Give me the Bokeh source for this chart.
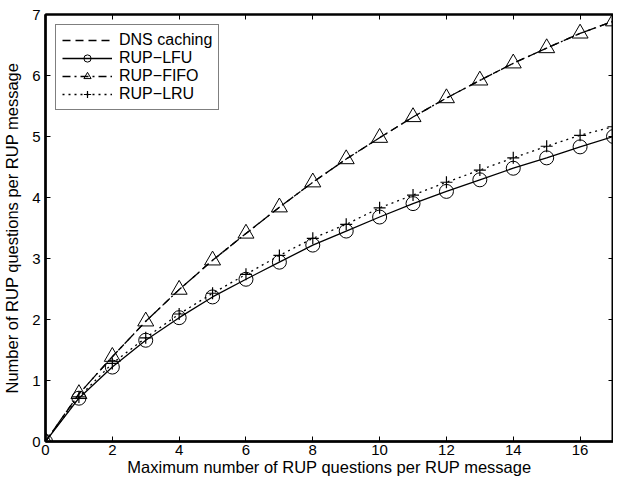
from bokeh.plotting import figure
from bokeh.models import LinearAxis, Range1d, Legend, LegendItem, FixedTicker
from bokeh.embed import file_html
from bokeh.resources import INLINE

x = list(range(0, 18))
dns_caching = [0, 0.78, 1.39, 1.97, 2.49, 2.97, 3.41, 3.84, 4.25, 4.63, 4.98, 5.32, 5.63, 5.92, 6.20, 6.45, 6.69, 6.89]
rup_fifo = [0, 0.78, 1.39, 1.97, 2.49, 2.97, 3.41, 3.84, 4.25, 4.63, 4.98, 5.32, 5.63, 5.92, 6.20, 6.45, 6.69, 6.89]
rup_lfu = [0, 0.71, 1.22, 1.66, 2.03, 2.37, 2.66, 2.94, 3.22, 3.45, 3.68, 3.90, 4.10, 4.29, 4.48, 4.65, 4.83, 5.00]
rup_lru = [0, 0.73, 1.28, 1.70, 2.09, 2.43, 2.74, 3.05, 3.33, 3.56, 3.83, 4.04, 4.25, 4.45, 4.65, 4.84, 5.02, 5.16]
x_ticks = [0, 2, 4, 6, 8, 10, 12, 14, 16]
y_ticks = [0, 1, 2, 3, 4, 5, 6, 7]
x_label = "Maximum number of RUP questions per RUP message"
y_label = "Number of RUP questions per RUP message"

FONT = "Liberation Sans"

p = figure(width=613, height=478, output_backend="svg", toolbar_location=None,
           x_range=Range1d(0, 17), y_range=Range1d(0, 7),
           min_border_left=45, min_border_right=0, min_border_top=14, min_border_bottom=34)
p.grid.visible = False
p.outline_line_color = "black"
p.outline_line_width = 2

for ax in (p.xaxis[0], p.yaxis[0]):
    ax.axis_line_width = 2.5
    ax.major_tick_in = 5
    ax.major_tick_out = 0
    ax.minor_tick_in = 0
    ax.minor_tick_out = 0
    ax.major_label_text_font = FONT
    ax.major_label_text_font_size = "15px"
    ax.major_label_text_color = "black"
    ax.axis_label_text_font = FONT
    ax.axis_label_text_font_size = "16.5px"
    ax.axis_label_text_font_style = "normal"
    ax.axis_label_text_color = "black"

p.xaxis[0].ticker = FixedTicker(ticks=x_ticks)
p.yaxis[0].ticker = FixedTicker(ticks=y_ticks)
p.xaxis[0].axis_label = x_label
p.yaxis[0].axis_label = y_label
p.xaxis[0].major_label_standoff = 3
p.xaxis[0].axis_label_standoff = 0
p.yaxis[0].major_label_standoff = 5
p.yaxis[0].axis_label_standoff = 8

top = LinearAxis(ticker=FixedTicker(ticks=x_ticks), major_tick_in=5, major_tick_out=0,
                 minor_tick_in=0, minor_tick_out=0, major_label_standoff=0,
                 major_label_overrides={t: "" for t in x_ticks}, axis_line_width=2)
right = LinearAxis(ticker=FixedTicker(ticks=y_ticks), major_tick_in=5, major_tick_out=0,
                   minor_tick_in=0, minor_tick_out=0, major_label_standoff=0,
                   major_label_overrides={t: "" for t in y_ticks}, axis_line_width=2)
p.add_layout(top, "above")
p.add_layout(right, "right")

lw = 1.3
r_dns = p.line(x, dns_caching, line_color="black", line_width=lw, line_dash="8 5")
r_fifo_l = p.line(x, rup_fifo, line_color="black", line_width=lw, line_dash="8 4 2 4")
r_fifo_m = p.scatter(x, rup_fifo, marker="triangle", size=16, fill_color=None, line_color="black", line_width=1)
r_lfu_l = p.line(x, rup_lfu, line_color="black", line_width=lw)
r_lfu_m = p.scatter(x, rup_lfu, marker="circle", size=14, fill_color=None, line_color="black", line_width=1)
r_lru_l = p.line(x, rup_lru, line_color="black", line_width=lw, line_dash="2 4")
r_lru_m = p.scatter(x, rup_lru, marker="cross", size=12, line_color="black", line_width=1.2)

legend = Legend(items=[
    LegendItem(label="DNS caching", renderers=[r_dns]),
    LegendItem(label="RUP\u2212LFU", renderers=[r_lfu_l, r_lfu_m]),
    LegendItem(label="RUP\u2212FIFO", renderers=[r_fifo_l, r_fifo_m]),
    LegendItem(label="RUP\u2212LRU", renderers=[r_lru_l, r_lru_m]),
], location="top_left")
legend.margin = 10
legend.padding = 6
legend.spacing = 0
legend.glyph_width = 50
legend.glyph_height = 18
legend.label_height = 18
legend.label_standoff = 7
legend.label_text_font = FONT
legend.label_text_font_size = "16px"
legend.label_text_color = "black"
legend.border_line_color = "black"
legend.border_line_width = 1.5
legend.background_fill_alpha = 1
legend.label_text_baseline = "middle"
p.add_layout(legend)

open("out.html", "w").write(file_html(p, INLINE))
